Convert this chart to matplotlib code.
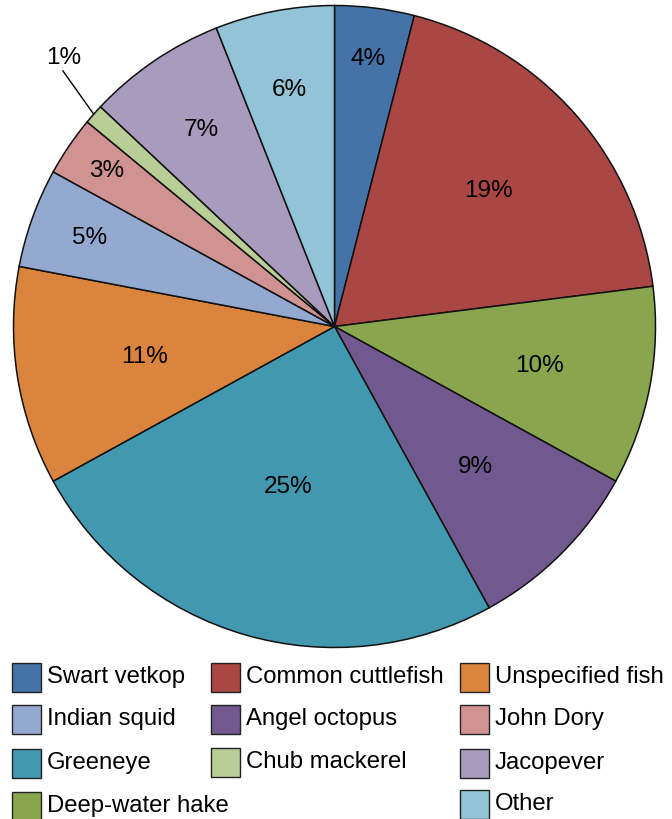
import numpy as np
import matplotlib
matplotlib.use("Agg")
import matplotlib.pyplot as plt
from matplotlib.patches import Rectangle

plt.rcParams['font.family'] = ['Liberation Sans', 'DejaVu Sans']

# Catch composition by species (percent)
species = ["Swart vetkop", "Common cuttlefish", "Deep-water hake", "Angel octopus",
           "Greeneye", "Unspecified fish", "Indian squid", "John Dory",
           "Chub mackerel", "Jacopever", "Other"]
shares = [4, 19, 10, 9, 25, 11, 5, 3, 1, 7, 6]
colors = ["#4572A7", "#AA4643", "#89A54E", "#71588F", "#4198AF", "#DB843D",
          "#93A9CF", "#D19392", "#B9CD96", "#A99BBD", "#92C3D6"]

# label distance from centre, as a fraction of the radius, per slice
label_r = [0.84, 0.64, 0.65, 0.62, 0.52, 0.60, 0.81, 0.86, None, 0.74, 0.75]

W, H = 672, 819
fig = plt.figure(figsize=(W / 100, H / 100), dpi=100)

cx, cy, R = 334.5, 326.5, 321.0
ax = fig.add_axes([(cx - R) / W, (H - cy - R) / H, 2 * R / W, 2 * R / H])

wedges, _ = ax.pie(shares, colors=colors, startangle=90, counterclock=False,
                   radius=1.0,
                   wedgeprops=dict(edgecolor="#111111", linewidth=1.1))
for w in wedges:
    w.set_clip_on(False)
ax.set_xlim(-1, 1)
ax.set_ylim(-1, 1)
ax.set_aspect("auto")
ax.axis("off")

total = float(sum(shares))
cum = np.cumsum([0] + shares[:-1])
for i, v in enumerate(shares):
    mid = np.deg2rad(90 - 360 * (cum[i] + v / 2) / total)
    txt = f"{v}%"
    if label_r[i] is None:
        # small slice: label outside with a leader line
        ex, ey = np.cos(mid), np.sin(mid)
        tx, ty = ex - 0.093, ey + 0.175
        ax.plot([ex, ex - 0.096], [ey, ey + 0.135], color="black", lw=1.0,
                clip_on=False)
        ax.text(tx, ty, txt, ha="center", va="center", fontsize=17.5,
                color="black")
    else:
        r = label_r[i]
        ax.text(r * np.cos(mid), r * np.sin(mid), txt, ha="center",
                va="center", fontsize=17.5, color="black")

# Legend laid out in three columns
legend_order = [
    ("Swart vetkop", 12, 677), ("Common cuttlefish", 211, 677), ("Unspecified fish", 460, 677),
    ("Indian squid", 12, 719), ("Angel octopus", 211, 719), ("John Dory", 460, 719),
    ("Greeneye", 12, 763), ("Chub mackerel", 211, 762), ("Jacopever", 460, 763),
    ("Deep-water hake", 12, 806), ("Other", 460, 804),
]
sw = 29
for name, x, y in legend_order:
    c = colors[species.index(name)]
    fig.patches.append(Rectangle(((x) / W, (H - y - sw / 2) / H), sw / W, sw / H,
                                 transform=fig.transFigure, facecolor=c,
                                 edgecolor="#222222", linewidth=1.0))
    fig.text((x + sw + 6) / W, (H - y) / H, name, ha="left", va="center",
             fontsize=17.2, color="black")

fig.savefig("out.png", dpi=100)
